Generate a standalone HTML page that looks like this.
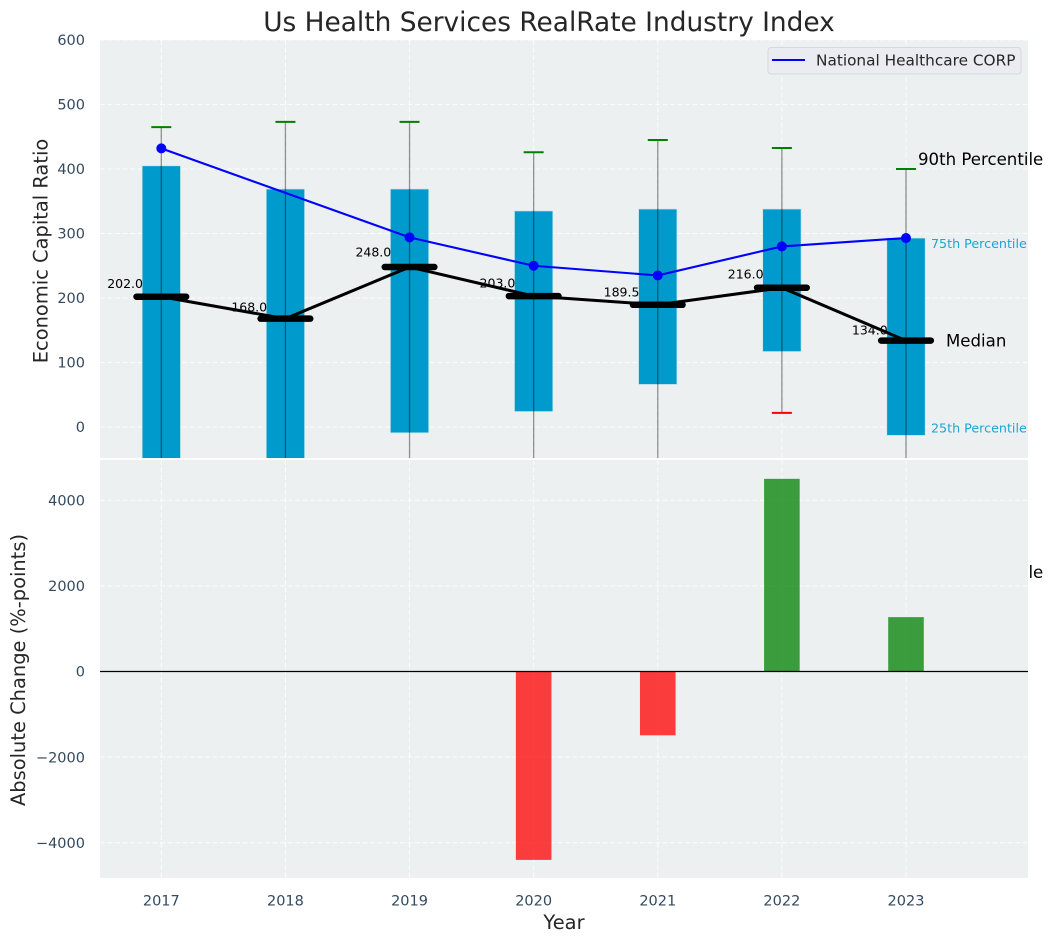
<!DOCTYPE html>
<html lang="en">
<head>
<meta charset="utf-8">
<title>Us Health Services RealRate Industry Index</title>
<style>
html,body{margin:0;padding:0;background:#fff;}
body{width:1053px;height:942px;overflow:hidden;}
svg{display:block;font-family:"DejaVu Sans","Liberation Sans",sans-serif;}
</style>
</head>
<body>
<svg id="chart" xmlns="http://www.w3.org/2000/svg" width="1053" height="942" viewBox="0 0 1053 942">
  <defs>
    <clipPath id="clip-top"><rect x="100" y="40" width="928" height="418"/></clipPath>
    <clipPath id="clip-bottom"><rect x="100" y="460" width="928" height="418"/></clipPath>
  </defs>
</svg>
<script>
const years = [2017, 2018, 2019, 2020, 2021, 2022, 2023];
const q1Values = [-120, -110, -9, 24, 66, 117, -13];
const q3Values = [405, 369, 369, 335, 338, 338, 293];
const medianValues = [202, 168, 248, 203, 189.5, 216, 134];
const whiskerHighValues = [465, 473, 473, 426, 445, 432.5, 400];
const whiskerLowValues = [-200, -190, -150, -160, -140, 22, -225];
const companyValues = [432, null, 294, 250, 235, 280, 293];
const changeValues = [null, null, null, -4400, -1490, 4500, 1270];
const topTicks = [0, 100, 200, 300, 400, 500, 600];
const bottomTicks = [-4000, -2000, 0, 2000, 4000];

const NS = 'http://www.w3.org/2000/svg';
const svg = document.getElementById('chart');

function xs(year) { return 100 + (year - 2016.506) / (6.983 + 0.494) * 928; }
function yTop(v) { return 458 - (v + 48) / 648 * 418; }
function yBottom(v) { return 878 - (v + 4823) / 9763 * 418; }

function mk(tag, attrs, parent, text) {
  const el = document.createElementNS(NS, tag);
  for (const k in attrs) el.setAttribute(k, attrs[k]);
  if (text !== undefined) el.textContent = text;
  parent.appendChild(el);
  return el;
}

/* ---------- top panel ---------- */
const topBg = mk('rect', {x:100, y:40, width:928, height:418, fill:'#ecf0f1'}, svg);



const topPlot = mk('g', {'clip-path':'url(#clip-top)'}, svg);



topTicks.forEach(function (t) {
  const g = mk('line', {x1:100, x2:1028, y1:yTop(t), y2:yTop(t), stroke:'#ffffff', 'stroke-width':1, 'stroke-dasharray':'5 2.5', opacity:0.85}, topPlot);
  
  
  const lab = mk('text', {x:85, y:yTop(t) + 5.2, 'text-anchor':'end', 'font-size':14.5, fill:'#34495e'}, svg, String(t));
  
  
});

years.forEach(function (yr) {
  const g = mk('line', {x1:xs(yr), x2:xs(yr), y1:40, y2:458, stroke:'#ffffff', 'stroke-width':1, 'stroke-dasharray':'5 2.5', opacity:0.85}, topPlot);
  
  
});

years.forEach(function (yr, i) {
  const x = xs(yr);
  const box = mk('rect', {x:x - 19.2, width:38.4, y:yTop(q3Values[i]), height:yTop(q1Values[i]) - yTop(q3Values[i]), fill:'#009bcc', stroke:'#cfe6ef', 'stroke-width':0.7}, topPlot);
  
  
  const wh = mk('line', {x1:x, x2:x, y1:yTop(whiskerHighValues[i]), y2:yTop(whiskerLowValues[i]), stroke:'#000000', 'stroke-opacity':0.42, 'stroke-width':1.3}, topPlot);
  
  
  const capHi = mk('line', {x1:x - 10, x2:x + 10, y1:yTop(whiskerHighValues[i]), y2:yTop(whiskerHighValues[i]), stroke:'#008000', 'stroke-width':2}, topPlot);
  
  
  const capLo = mk('line', {x1:x - 10, x2:x + 10, y1:yTop(whiskerLowValues[i]), y2:yTop(whiskerLowValues[i]), stroke:'#ff0000', 'stroke-width':2}, topPlot);
  
  
});

const companyPts = [];
years.forEach(function (yr, i) {
  if (companyValues[i] !== null) companyPts.push(xs(yr) + ',' + yTop(companyValues[i]));
});
const companyLine = mk('polyline', {points:companyPts.join(' '), fill:'none', stroke:'#0000ff', 'stroke-width':2.1}, topPlot);


years.forEach(function (yr, i) {
  if (companyValues[i] === null) return;
  const dot = mk('circle', {cx:xs(yr), cy:yTop(companyValues[i]), r:5, fill:'#0000ff'}, topPlot);
  
  
});

years.forEach(function (yr, i) {
  const lab = mk('text', {x:xs(yr) - 18.3, y:yTop(medianValues[i] * 1.06) - 0.9, 'text-anchor':'end', 'font-size':12.5, fill:'#000000'}, topPlot, medianValues[i].toFixed(1));
  
  
});

const medianPts = years.map(function (yr, i) { return xs(yr) + ',' + yTop(medianValues[i]); }).join(' ');
const medianLine = mk('polyline', {points:medianPts, fill:'none', stroke:'#000000', 'stroke-width':3}, topPlot);


years.forEach(function (yr, i) {
  const m = mk('line', {x1:xs(yr) - 24.8, x2:xs(yr) + 24.8, y1:yTop(medianValues[i]), y2:yTop(medianValues[i]), stroke:'#000000', 'stroke-width':6.5, 'stroke-linecap':'round'}, topPlot);
  
  
});

/* annotations beside the last box; the 10th label is covered by the lower panel */
const lastX = xs(years[years.length - 1]);
const last = years.length - 1;
const a90 = mk('text', {x:lastX + 12, y:yTop(whiskerHighValues[last]) - 4, 'font-size':16.6, fill:'#000000'}, svg, '90th Percentile');


const a10 = mk('text', {x:lastX + 12, y:578, 'font-size':16.6, fill:'#000000'}, svg, '10th Percentile');


const a75 = mk('text', {x:lastX + 25, y:yTop(q3Values[last]) + 10, 'font-size':12.7, fill:'#1aa5d2'}, svg, '75th Percentile');


const a25 = mk('text', {x:lastX + 25, y:yTop(q1Values[last]) - 3, 'font-size':12.7, fill:'#1aa5d2'}, svg, '25th Percentile');


const aMed = mk('text', {x:lastX + 40, y:yTop(medianValues[last]) + 6, 'font-size':16.6, fill:'#000000'}, svg, 'Median');



/* legend */
const legendBox = mk('rect', {x:768, y:47.5, width:253, height:26.5, rx:3, fill:'#eaecf1', stroke:'#d6d9dc', 'stroke-width':1}, svg);


const legendLine = mk('line', {x1:772, x2:805, y1:60, y2:60, stroke:'#0000ff', 'stroke-width':2}, svg);


const legendText = mk('text', {x:816, y:65.7, 'font-size':15.3, fill:'#262626'}, svg, 'National Healthcare CORP');



/* ---------- bottom panel ---------- */
const botBg = mk('rect', {x:100, y:460, width:928, height:418, fill:'#ecf0f1'}, svg);



const botPlot = mk('g', {'clip-path':'url(#clip-bottom)'}, svg);



bottomTicks.forEach(function (t) {
  const g = mk('line', {x1:100, x2:1028, y1:yBottom(t), y2:yBottom(t), stroke:'#ffffff', 'stroke-width':1, 'stroke-dasharray':'5 2.5', opacity:0.85}, botPlot);
  
  
  const lab = mk('text', {x:85, y:yBottom(t) + 5.2, 'text-anchor':'end', 'font-size':14.5, fill:'#34495e'}, svg, String(t).replace('-', '\u2212'));
  
  
});

years.forEach(function (yr) {
  const g = mk('line', {x1:xs(yr), x2:xs(yr), y1:460, y2:878, stroke:'#ffffff', 'stroke-width':1, 'stroke-dasharray':'5 2.5', opacity:0.85}, botPlot);
  
  
  const lab = mk('text', {x:xs(yr), y:905.3, 'text-anchor':'middle', 'font-size':14.5, fill:'#34495e'}, svg, String(yr));
  
  
});

years.forEach(function (yr, i) {
  const v = changeValues[i];
  if (v === null) return;
  const y0 = yBottom(0);
  const y1 = yBottom(v);
  const bar = mk('rect', {x:xs(yr) - 17.8, width:35.6, y:Math.min(y0, y1), height:Math.abs(y1 - y0), fill:v < 0 ? '#ff0000' : '#008000', 'fill-opacity':0.75}, botPlot);
  
  
});

const zeroLine = mk('line', {x1:100, x2:1028, y1:yBottom(0), y2:yBottom(0), stroke:'#000000', 'stroke-width':1.2}, botPlot);



/* ---------- titles ---------- */
const title = mk('text', {x:549, y:31, 'text-anchor':'middle', 'font-size':26.4, fill:'#262626'}, svg, 'Us Health Services RealRate Industry Index');


const yTitleTop = mk('text', {x:0, y:0, transform:'translate(47.5 251) rotate(-90)', 'text-anchor':'middle', 'font-size':19.45, fill:'#262626'}, svg, 'Economic Capital Ratio');


const yTitleBot = mk('text', {x:0, y:0, transform:'translate(25 670) rotate(-90)', 'text-anchor':'middle', 'font-size':19.45, fill:'#262626'}, svg, 'Absolute Change (%-points)');


const xTitle = mk('text', {x:564, y:929, 'text-anchor':'middle', 'font-size':19.45, fill:'#262626'}, svg, 'Year');


</script>
</body>
</html>
